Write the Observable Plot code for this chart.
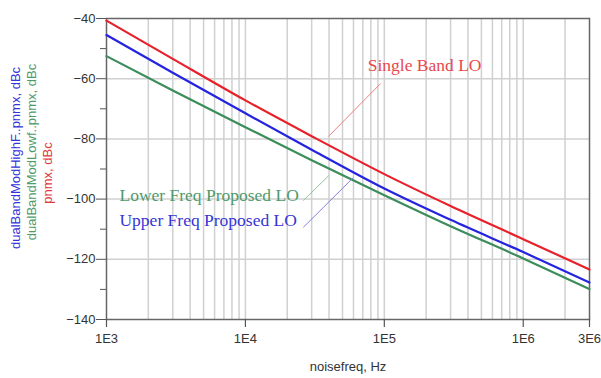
<!DOCTYPE html>
<html><head><meta charset="utf-8">
<script src="https://cdn.jsdelivr.net/npm/d3@7"></script>
<script src="https://cdn.jsdelivr.net/npm/@observablehq/plot@0.6"></script>
<style>body{margin:0;background:#fff;} svg{display:block}</style>
</head><body><div id="chart"></div>
<script>
// ---- data ----
const freqs = [1e3, 3e3, 1e4, 3e4, 1e5, 3e5, 1e6, 3e6];
const singleBand = [-40.7, -53.4, -67.2, -79.1, -91.7, -102.3, -113.3, -123.4];
const upperFreq  = [-45.5, -58.0, -71.5, -83.6, -96.5, -106.9, -117.6, -127.7];
const lowerFreq  = [-52.5, -63.9, -76.1, -87.1, -98.7, -109.0, -119.7, -129.9];
const seriesNames = ["Single Band LO", "Upper Freq Proposed LO", "Lower Freq Proposed LO"];
const xTickValues = [1e3, 1e4, 1e5, 1e6, 3e6];
const xTickLabels = ["1E3", "1E4", "1E5", "1E6", "3E6"];
const yTickValues = [-40, -60, -80, -100, -120, -140];
const yMinorTicks = [-50, -70, -90, -110, -130];
const yGridValues = [-60, -80, -100, -120];
const xGridValues = [2e3,3e3,4e3,5e3,6e3,7e3,8e3,9e3,1e4,2e4,3e4,4e4,5e4,6e4,7e4,8e4,9e4,1e5,2e5,3e5,4e5,5e5,6e5,7e5,8e5,9e5,1e6,2e6];
const yAxisLabels = ["dualBandModHighF..pnmx, dBc", "dualBandModLowf..pnmx, dBc", "pnmx, dBc"];
const xAxisLabel = "noisefreq, Hz";

// ---- build table ----
const seriesValues = [singleBand, upperFreq, lowerFreq];
const rows = [];
seriesNames.forEach((s, k) => freqs.forEach((f, i) => rows.push({s, f, v: seriesValues[k][i]})));

const lineColors = ["#e8202a", "#2424e0", "#3d8c5c"];
const textColors = ["#e8484c", "#3636d4", "#4e9a6c"];
const leaderColors = ["#ec8080", "#8080e8", "#93c2a2"];

// annotation placement (data coordinates)
const annotations = [
  {label: seriesNames[0], x: 7.6e4, y: -55.5, x1: 9.4e4, y1: -61.6, x2: 3.96e4, y2: -79.2},
  {label: seriesNames[1], x: 1240, y: -107.2, x1: 2.61e4, y1: -109.4, x2: 6.0e4, y2: -92.8},
  {label: seriesNames[2], x: 1240, y: -98.9, x1: 2.61e4, y1: -100.5, x2: 3.98e4, y2: -92.2}
];

const serif = "'Liberation Serif', 'Times New Roman', serif";
const yLabelOffsets = [{dx: -91, dy: -11}, {dx: -75, dy: -17}, {dx: -59, dy: 4}];
const yLabelColors = ["#3434d8", "#4e9a6c", "#e03a3e"];

const chart = Plot.plot({
  width: 601, height: 378,
  marginLeft: 106, marginRight: 12, marginTop: 18, marginBottom: 59,
  style: {fontFamily: "'Liberation Sans', Arial, sans-serif", fontSize: "13px", background: "#fff", color: "#333", overflow: "visible"},
  x: {type: "log", domain: [1e3, 3e6], axis: null},
  y: {domain: [-140, -40], axis: null},
  color: {domain: seriesNames, range: lineColors},
  marks: [
    Plot.ruleX(xGridValues, {stroke: "#d0d0d0", strokeWidth: 1.5}),
    Plot.ruleY(yGridValues, {stroke: "#d0d0d0", strokeWidth: 1.5}),
    Plot.frame({stroke: "#666", strokeWidth: 1.5}),
    // x ticks (downward) and labels
    Plot.ruleX(xTickValues, {insetTop: 293, dy: 8, stroke: "#555", strokeWidth: 1.2}),
    Plot.text(xTickValues, {x: d => d, text: d => xTickLabels[xTickValues.indexOf(d)], frameAnchor: "bottom", lineAnchor: "top", dy: 14, fill: "#333", fontSize: 13}),
    Plot.axisY(yTickValues, {tickSize: 10, tickPadding: 1, label: null, stroke: "#555", fill: "#333", fontSize: 13}),
    Plot.axisY(yMinorTicks, {tickSize: 6, tickFormat: () => "", label: null, stroke: "#555"}),
    Plot.line(rows, {x: "f", y: "v", z: "s", stroke: "s", strokeWidth: 2.2, curve: "monotone-x"}),
    Plot.link(annotations, {x1: "x1", y1: "y1", x2: "x2", y2: "y2", stroke: d => leaderColors[seriesNames.indexOf(d.label)], strokeWidth: 1}),
    Plot.text(annotations, {x: "x", y: "y", text: "label", textAnchor: "start", lineAnchor: "middle", fontFamily: serif, fontSize: 17.5, fill: d => textColors[seriesNames.indexOf(d.label)]}),
    ...yAxisLabels.map((t, i) => Plot.text([t], {frameAnchor: "left", text: d => d, rotate: -90, textAnchor: "middle", lineAnchor: "middle", dx: yLabelOffsets[i].dx, dy: yLabelOffsets[i].dy, fill: yLabelColors[i], fontSize: 13})),
    Plot.text([xAxisLabel], {frameAnchor: "bottom", text: d => d, dy: 51, fill: "#333", fontSize: 13})
  ]
});
document.getElementById("chart").appendChild(chart);
</script>
</body></html>
